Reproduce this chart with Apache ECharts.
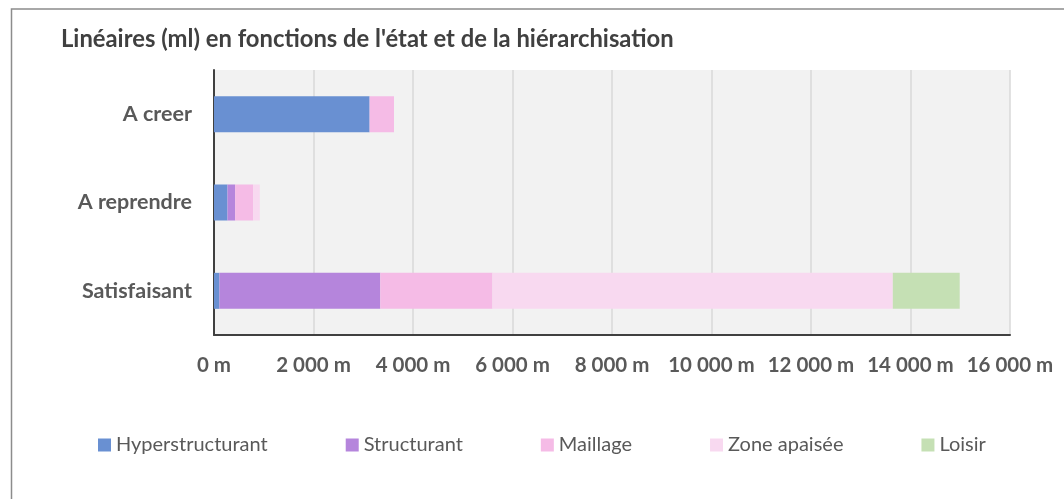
<!DOCTYPE html>
<html>
<head>
<meta charset="utf-8">
<script src="https://cdn.jsdelivr.net/npm/echarts@6/dist/echarts.min.js"></script>
<style>
  html, body { margin: 0; padding: 0; background: #fff; }
  #main { width: 1064px; height: 499px; }
</style>
</head>
<body>
<div id="main"></div>
<script>
// catégories (de bas en haut, l'axe y de echarts monte)
var etats = ['Satisfaisant', 'A reprendre', 'A creer'];

// linéaires en mètres, même ordre que etats
var hyperstructurant = [110, 271, 3128];
var structurant      = [3233, 154, 0];
var maillage         = [2255, 361, 490];
var zoneApaisee      = [8046, 134, 0];
var loisir           = [1345, 0, 0];

var xTicks = [0, 2000, 4000, 6000, 8000, 10000, 12000, 14000, 16000];

var chart = echarts.init(document.getElementById('main'), null, { renderer: 'canvas' });

function fmtMetres(v) {
  return String(v).replace(/\B(?=(\d{3})+(?!\d))/g, ' ') + ' m';
}

function barSerie(name, data) {
  return {
    name: name,
    type: 'bar',
    stack: 'total',
    data: data,
    barWidth: 36,
    emphasis: { disabled: true }
  };
}

var option = {
  animation: false,
  textStyle: { fontFamily: 'Lato', color: '#595959' },
  color: ['#6990D2', '#B585DC', '#F5BBE6', '#F8D9F0', '#C5E0B4'],
  title: {
    text: "Linéaires (ml) en fonctions de l'état et de la hiérarchisation",
    left: 61,
    top: 27,
    padding: 0,
    textStyle: { fontFamily: 'Lato', fontSize: 23.8, fontWeight: 'bold', color: '#404040' }
  },
  graphic: [{
    type: 'rect',
    shape: { x: 11.5, y: 9, width: 1200, height: 700 },
    style: { fill: 'none', stroke: '#8C8C8C', lineWidth: 1.5 },
    silent: true
  }],
  grid: {
    left: 214,
    right: 54,
    top: 70,
    bottom: 164,
    show: true,
    backgroundColor: '#F2F2F2',
    borderWidth: 0
  },
  xAxis: {
    type: 'value',
    min: xTicks[0],
    max: xTicks[xTicks.length - 1],
    interval: 2000,
    axisLine: { show: true, lineStyle: { color: '#404040', width: 2 } },
    axisTick: { show: false },
    splitLine: { show: true, lineStyle: { color: '#D9D9D9', width: 1.5 } },
    axisLabel: {
      margin: 20,
      fontSize: 20.5,
      fontWeight: 'bold',
      color: '#595959',
      formatter: fmtMetres
    }
  },
  yAxis: {
    type: 'category',
    data: etats,
    axisLine: { show: true, lineStyle: { color: '#404040', width: 2 } },
    axisTick: { show: false },
    axisLabel: {
      margin: 22,
      fontSize: 21.5,
      fontWeight: 'bold',
      color: '#595959'
    }
  },
  legend: {
    left: 98,
    top: 435,
    padding: 0,
    itemWidth: 13,
    itemHeight: 13,
    itemGap: 78,
    icon: 'rect',
    textStyle: { fontFamily: 'Lato', fontSize: 20, color: '#595959' },
    data: ['Hyperstructurant', 'Structurant', 'Maillage', 'Zone apaisée', 'Loisir']
  },
  series: [
    barSerie('Hyperstructurant', hyperstructurant),
    barSerie('Structurant', structurant),
    barSerie('Maillage', maillage),
    barSerie('Zone apaisée', zoneApaisee),
    barSerie('Loisir', loisir)
  ]
};

chart.setOption(option);
</script>
</body>
</html>
